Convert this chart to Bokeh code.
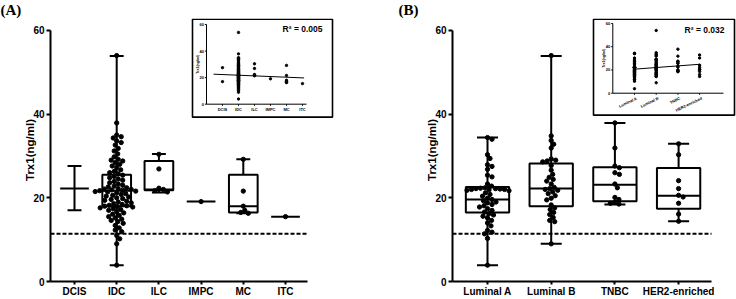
import numpy as np
from bokeh.plotting import figure
from bokeh.models import Range1d, FixedTicker, Label
from bokeh.layouts import row
from bokeh.embed import file_html
from bokeh.resources import INLINE
from bokeh.core.properties import value

# ---------------- data: panel A (histological type) ----------------
a_categories = ["DCIS", "IDC", "ILC", "IMPC", "MC", "ITC"]
a_min    = [17.0, 3.9, 21.3, 19.1, 16.3, 15.5]
a_q1     = [22.2, 18.0, 21.8, 19.1, 16.5, 15.5]
a_median = [22.2, 21.7, 22.0, 19.1, 18.0, 15.5]
a_q3     = [22.2, 25.5, 28.8, 19.1, 25.5, 15.5]
a_max    = [27.6, 53.9, 30.5, 19.1, 29.2, 15.5]
a_dcis = [27.5, 17.0]
a_idc = [54.0, 37.9, 35.0, 34.6, 34.3, 33.6, 33.2, 32.6, 31.8, 31.2, 30.5, 29.8,
         29.2, 29.0, 28.8, 28.4, 28.0, 27.6, 27.2, 26.7, 26.3, 26.0, 25.7, 25.4,
         25.1, 24.8, 24.5, 24.2, 23.9, 23.6, 23.3, 23.0, 22.8, 22.6, 22.4, 22.2,
         22.1, 22.0, 21.9, 21.8, 21.7, 21.6, 21.5, 21.4, 21.2, 21.0, 20.8, 20.6,
         20.4, 20.2, 20.0, 19.8, 19.6, 19.4, 19.2, 19.0, 18.8, 18.6, 18.4, 18.2,
         18.1, 18.0, 17.9, 17.8, 17.6, 17.4, 17.2, 17.0, 16.7, 16.4, 16.1, 15.8,
         15.5, 15.2, 14.9, 14.6, 14.3, 13.9, 13.4, 12.8, 12.3, 11.9, 11.0, 10.2,
         9.0, 3.9]
a_ilc = [30.4, 26.9, 22.3, 22.0, 21.7, 21.4]
a_impc = [19.1]
a_mc = [29.2, 21.6, 18.0, 17.0, 16.5, 16.3]
a_itc = [15.5]
a_points = [a_dcis, a_idc, a_ilc, a_impc, a_mc, a_itc]
a_show_points = [False, True, True, True, True, True]
a_r2 = "R\u00b2 = 0.005"
a_reg_intercept = 22.3   # fitted value at first category
a_reg_slope = -0.5       # per category step

# ---------------- data: panel B (molecular subtype) ----------------
b_categories = ["Luminal A", "Luminal B", "TNBC", "HER2-enriched"]
b_min    = [3.9, 9.0, 18.4, 14.4]
b_q1     = [16.5, 18.0, 19.2, 17.4]
b_median = [19.6, 22.2, 23.1, 20.5]
b_q3     = [22.6, 28.2, 27.3, 27.1]
b_max    = [34.4, 53.9, 37.9, 32.9]
b_luma = [34.4, 34.0, 30.3, 29.4, 27.9, 27.5, 26.8, 25.4, 25.0, 23.3, 22.8, 22.4,
          22.3, 22.2, 22.2, 22.1, 22.0, 22.0, 21.9, 21.8, 21.7, 21.2, 20.8, 20.4,
          19.9, 19.6, 19.3, 19.0, 18.8, 18.4, 18.1, 17.8, 17.4, 17.0, 16.6, 16.2,
          15.9, 15.6, 15.2, 14.6, 14.0, 13.3, 12.2, 11.8, 11.4, 10.3, 3.9]
b_lumb = [54.0, 34.8, 33.7, 32.8, 31.9, 29.3, 29.0, 28.8, 28.6, 27.7, 26.6, 25.6,
          24.9, 24.4, 24.0, 23.3, 22.5, 22.2, 22.0, 21.8, 21.4, 21.0, 20.5, 19.9,
          19.5, 18.3, 17.6, 17.2, 16.5, 16.0, 15.3, 14.6, 14.3, 9.0]
b_tnbc = [37.9, 31.9, 27.6, 27.2, 26.0, 25.6, 23.3, 22.4, 20.1, 19.6, 19.0, 18.7, 18.5]
b_her2 = [32.9, 30.3, 24.1, 22.2, 20.6, 20.2, 18.7, 16.1, 14.4]
b_points = [b_luma, b_lumb, b_tnbc, b_her2]
b_show_points = [True, True, True, True]
b_r2 = "R\u00b2 = 0.032"
b_reg_intercept = 20.7
b_reg_slope = 1.4

y_ticks = [0, 20, 40, 60]
cutoff = 11.4
y_label = "Trx1(ng/ml)"

# ---------------- layout constants (pixels) ----------------
SANS = "Liberation Sans"
SERIF = "Liberation Serif"
FIG_H = 299
TOP = 18        # frame top
BOT = 282       # frame bottom
Y60 = 30        # pixel row of the 60 tick
PPU = (BOT - Y60) / 60.0


def swarm_offsets(vals, ppu_x, d=4.4):
    vals = np.asarray(vals, float)
    order = np.argsort(-vals, kind="stable")
    placed = []
    offs = np.zeros(len(vals))
    steps = [0.0]
    for k in range(1, 160):
        steps += [k * 0.5, -k * 0.5]
    for idx in order:
        y = vals[idx] * PPU
        chosen = 0.0
        for s in steps:
            if all((px_ - s) ** 2 + (py_ - y) ** 2 >= d * d for px_, py_ in placed):
                chosen = s
                break
        placed.append((chosen, y))
        offs[idx] = chosen / ppu_x
    return offs


def make_panel(fig_w, L, R, cat0, sp, axis_end_px, cats, mins, q1s, meds, q3s, maxs,
               pts, show, title, title_x, inset, r2_text, reg_int, reg_slope, reg_x,
               inset_angle):
    xs = (L - cat0) / sp
    xe = (R - cat0) / sp
    ye = (BOT - TOP) / PPU
    p = figure(width=fig_w, height=FIG_H, x_range=Range1d(xs, xe), y_range=Range1d(0, ye),
               output_backend="svg", toolbar_location=None, title=title,
               min_border_left=L, min_border_right=fig_w - R,
               min_border_top=TOP, min_border_bottom=FIG_H - BOT)
    p.title.align = "left"
    p.title.offset = title_x - L
    p.title.standoff = 0
    p.title.vertical_align = "middle"
    p.title.text_font = SERIF
    p.title.text_font_style = "bold"
    p.title.text_font_size = "15px"
    p.title.text_color = "black"
    p.outline_line_color = None
    p.xgrid.visible = False
    p.ygrid.visible = False
    p.background_fill_color = "white"

    # axes
    p.yaxis.ticker = FixedTicker(ticks=y_ticks)
    p.yaxis.bounds = (0, 60)
    p.yaxis.axis_label = y_label
    p.yaxis.axis_label_text_font = SANS
    p.yaxis.axis_label_text_font_style = "bold"
    p.yaxis.axis_label_text_font_size = "11.5px"
    p.yaxis.axis_label_text_color = "black"
    p.yaxis.axis_label_standoff = -6
    p.xaxis.ticker = FixedTicker(ticks=list(range(len(cats))))
    p.xaxis.major_label_overrides = {i: c for i, c in enumerate(cats)}
    p.xaxis.bounds = (xs, (axis_end_px - cat0) / sp)
    for ax in (p.xaxis, p.yaxis):
        ax.axis_line_width = 2
        ax.axis_line_color = "black"
        ax.major_tick_line_width = 2
        ax.major_tick_line_color = "black"
        ax.major_tick_in = 0
        ax.minor_tick_line_color = None
        ax.major_label_text_font = SANS
        ax.major_label_text_font_style = "bold"
        ax.major_label_text_font_size = "10px"
        ax.major_label_text_color = "black"
    p.yaxis.major_tick_out = 4
    p.yaxis.major_label_standoff = 2
    p.xaxis.major_tick_out = 3
    p.xaxis.major_label_standoff = 1

    n = len(cats)
    idx = np.arange(n, dtype=float)
    hw, cw = 0.34, 0.165
    q1a, q3a, mina, maxa, meda = map(np.asarray, (q1s, q3s, mins, maxs, meds))
    up = maxa > q3a
    lo = mina < q1a
    p.segment(x0=idx[up], y0=q3a[up], x1=idx[up], y1=maxa[up], line_width=2, color="black")
    p.segment(x0=idx[lo], y0=mina[lo], x1=idx[lo], y1=q1a[lo], line_width=2, color="black")
    p.segment(x0=idx[up] - cw, y0=maxa[up], x1=idx[up] + cw, y1=maxa[up], line_width=2, color="black")
    p.segment(x0=idx[lo] - cw, y0=mina[lo], x1=idx[lo] + cw, y1=mina[lo], line_width=2, color="black")
    hb = q3a > q1a
    p.quad(left=idx[hb] - hw, right=idx[hb] + hw, bottom=q1a[hb], top=q3a[hb],
           fill_color="white", line_color="black", line_width=2)
    p.segment(x0=idx - hw, y0=meda, x1=idx + hw, y1=meda, line_width=2, color="black")

    # cutoff line
    p.segment(x0=[xs], y0=[cutoff], x1=[(axis_end_px - cat0) / sp], y1=[cutoff],
              line_width=2, color="black", line_dash="4 2")

    # points (swarm)
    px_, py_ = [], []
    for i, (vals, s) in enumerate(zip(pts, show)):
        if not s:
            continue
        offs = swarm_offsets(vals, sp)
        px_ += list(i + offs)
        py_ += list(vals)
    p.scatter(x=px_, y=py_, size=4.3, color="black")

    # ---------- inset ----------
    (icat0, isp, iy0, ippu, box, axis_x0, axis_x1) = inset
    p.extra_x_ranges = {"ix": Range1d((L - icat0) / isp, (R - icat0) / isp),
                        "px": Range1d(L, R)}
    p.extra_y_ranges = {"iy": Range1d((iy0 - BOT) / ippu, (iy0 - TOP) / ippu),
                        "py": Range1d(BOT, TOP)}
    bl, br, bt, bb = box
    p.quad(left=[bl], right=[br], top=[bt], bottom=[bb], fill_color="white",
           line_color="black", line_width=1.6, x_range_name="px", y_range_name="py")
    kw = dict(x_range_name="ix", y_range_name="iy")
    p.segment(x0=[axis_x0], y0=[0], x1=[axis_x0], y1=[60], color="black", line_width=1, **kw)
    p.segment(x0=[axis_x0], y0=[0], x1=[axis_x1], y1=[0], color="black", line_width=1, **kw)
    tk = np.asarray(y_ticks, float)
    p.segment(x0=[axis_x0] * len(tk), y0=tk, x1=[axis_x0 - 1.6 / isp] * len(tk), y1=tk,
              color="black", line_width=1, **kw)
    p.text(x=[axis_x0 - 2.5 / isp] * len(tk), y=tk, text=[str(t) for t in y_ticks],
           text_font=value(SANS), text_font_style="bold", text_font_size="4px",
           text_align="right", text_baseline="middle", text_color="black", **kw)
    p.segment(x0=idx, y0=[0] * n, x1=idx, y1=[-1.6 / ippu] * n, color="black", line_width=1, **kw)
    if inset_angle == 0:
        p.text(x=idx, y=[-3.0 / ippu] * n, text=cats, text_font=value(SANS),
               text_font_style="bold", text_font_size="4px", text_align="center",
               text_baseline="top", text_color="black", **kw)
    else:
        p.text(x=idx + 1.0 / isp, y=[-2.5 / ippu] * n, text=cats, text_font=value(SANS),
               text_font_style="bold", text_font_size="4px", text_align="right",
               text_baseline="top", angle=inset_angle, text_color="black", **kw)
    p.text(x=[axis_x0 - 9.0 / isp], y=[30], text=[y_label], text_font=value(SANS),
           text_font_style="bold", text_font_size="3.5px", text_align="center",
           text_baseline="middle", angle=np.pi / 2, text_color="black", **kw)
    ix_, iy_ = [], []
    for i, vals in enumerate(pts):
        ix_ += [i] * len(vals)
        iy_ += list(vals)
    p.scatter(x=ix_, y=iy_, size=2.4, color="black", **kw)
    rx = np.array(reg_x, float)
    p.line(x=rx, y=reg_int + reg_slope * rx, color="black", line_width=1, **kw)
    r2x, r2y = r2_text[1], r2_text[2]
    p.add_layout(Label(x=r2x, y=r2y, text=r2_text[0], x_range_name="px", y_range_name="py",
                       text_font=SANS, text_font_style="bold", text_font_size="8.5px",
                       text_align="right", text_baseline="middle", text_color="black"))
    return p


pA = make_panel(368, 50, 336, 74, 42.2, 307, a_categories, a_min, a_q1, a_median, a_q3, a_max,
                a_points, a_show_points, "(A)", 0,
                (222, 16.0, 104, 80 / 60.0, (192, 332, 18.8, 117), -1.0, 5.25),
                (a_r2, 322, 29), a_reg_intercept, a_reg_slope, [-0.56, 5.1], 0)

pB = make_panel(368, 84, 368, 119, 63.7, 343, b_categories, b_min, b_q1, b_median, b_q3, b_max,
                b_points, b_show_points, "(B)", 30,
                (266, 21.7, 93, 70 / 60.0, (225, 366, 18.8, 115), -1.0, 4.1),
                (b_r2, 356, 30), b_reg_intercept, b_reg_slope, [0.0, 3.0], 0.45)

layout = row(pA, pB)
with open("out.html", "w") as f:
    f.write(file_html(layout, INLINE, "Trx1"))
